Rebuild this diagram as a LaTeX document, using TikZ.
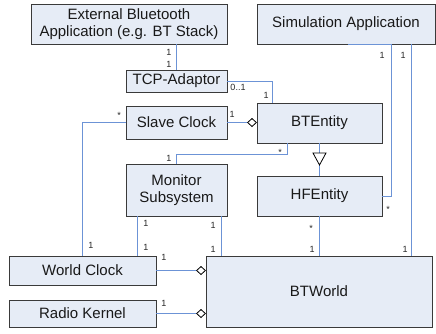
\documentclass[tikz,border=0pt]{standalone}
\usepackage{fontspec}
\setmainfont{Liberation Sans}
\usetikzlibrary{arrows.meta,calc,shadows}
\definecolor{boxfill}{HTML}{E6ECF6}
\definecolor{boxline}{HTML}{3A3A3A}
\definecolor{connblue}{HTML}{6C93D6}
\tikzset{
  box/.style={draw=boxline, fill=boxfill, line width=1pt, inner sep=0pt, outer sep=0pt,
    align=center, font=\fontsize{15}{17}\selectfont, text=black!90,
    drop shadow={shadow xshift=0.9pt, shadow yshift=-0.9pt, fill=black!55, opacity=1}},
  conn/.style={draw=connblue, line width=0.9pt},
  aggr/.style={conn, -{Diamond[length=10pt,width=9pt,color=black,fill=white,line width=0.8pt]}},
  lbl/.style={font=\fontsize{9}{10}\selectfont, inner sep=0pt, text=black!85}
}
\begin{document}
\begin{tikzpicture}[x=1pt,y=-1pt]
\useasboundingbox (0,0) rectangle (436,333);
% boxes
\node[box, minimum width=196pt, minimum height=40pt] (ext) at (129,24) {External Bluetooth\\Application (e.g. BT Stack)};
\node[box, minimum width=178pt, minimum height=40pt] (sim) at (346,24) {Simulation Application};
\node[box, minimum width=101pt, minimum height=22pt] (tcp) at (176.5,81) {TCP-Adaptor};
\node[box, minimum width=101pt, minimum height=33pt] (slave) at (176.5,122.5) {Slave Clock};
\node[box, minimum width=125pt, minimum height=40pt] (bte) at (319.5,123) {BTEntity};
\node[box, minimum width=101pt, minimum height=52pt] (mon) at (176.5,190) {Monitor\\Subsystem};
\node[box, minimum width=125pt, minimum height=40pt] (hfe) at (319.5,196) {HFEntity};
\node[box, minimum width=147pt, minimum height=29pt] (wc) at (82.5,270.5) {World Clock};
\node[box, minimum width=147pt, minimum height=27pt] (rk) at (82.5,313.5) {Radio Kernel};
\node[box, minimum width=226pt, minimum height=71pt] (btw) at (319,291.5) {BTWorld};
% helper coordinates
\coordinate (t1) at ([xshift=15]bte.north west);
\coordinate (b1) at ([xshift=30]bte.south west);
\coordinate (s1) at ([xshift=2]sim.south);
\coordinate (s1b) at ([xshift=45]sim.south);
\coordinate (s2) at ([xshift=65]sim.south);
\coordinate (m1) at ([xshift=-39.5]mon.south);
\coordinate (m2) at ([xshift=44.5]mon.south);
% connectors
\draw[conn] (ext.south -| tcp.north) -- (tcp.north);
\draw[conn] (tcp.east) -| (t1);
\draw[aggr] (slave.east) -- (slave.east -| bte.west);
\draw[conn] (slave.west) -| (wc.north);
\draw[conn] (mon.north) -- ++(0,-10) -| (b1);
\draw[conn] (bte.south) -- (hfe.north);
\draw[black, fill=white, line width=0.8pt] ($(bte.south)+(-6.5,10)$) -- ($(bte.south)+(6.5,10)$) -- ($(bte.south)+(0,22)$) -- cycle;
\draw[conn] (s1) -- (s1b) |- (hfe.east);
\draw[conn] (s2) -- (s2 |- btw.north);
\draw[conn] (hfe.south) -- (hfe.south |- btw.north);
\draw[conn] (m1) -- (m1 |- wc.north);
\draw[conn] (m2) -- (m2 |- btw.north);
\draw[aggr] (wc.east) -- (wc.east -| btw.west);
\draw[aggr] (rk.east) -- (rk.east -| btw.west);
% multiplicity labels
\node[lbl] (l1) at (169,52.5) {1};
\node[lbl] (l2) at (169,64) {1};
\node[lbl] (l3) at (238,87.5) {0..1};
\node[lbl] (l4) at (266,95) {1};
\node[lbl] (l5) at (232,114) {1};
\node[lbl] (l6) at (119,115) {*};
\node[lbl] (l7) at (91,245) {1};
\node[lbl] (l8) at (169,158) {1};
\node[lbl] (l9) at (280,152) {*};
\node[lbl] (l10) at (382,55) {1};
\node[lbl] (l11) at (388,209) {*};
\node[lbl] (l12) at (403,55) {1};
\node[lbl] (l13) at (405,249) {1};
\node[lbl] (l14) at (311,228) {*};
\node[lbl] (l15) at (312,249) {1};
\node[lbl] (l16) at (146,223) {1};
\node[lbl] (l17) at (146,247) {1};
\node[lbl] (l18) at (213,225) {1};
\node[lbl] (l19) at (213,249) {1};
\node[lbl] (l20) at (164,257) {1};
\node[lbl] (l21) at (164,303) {1};
\end{tikzpicture}
\end{document}
